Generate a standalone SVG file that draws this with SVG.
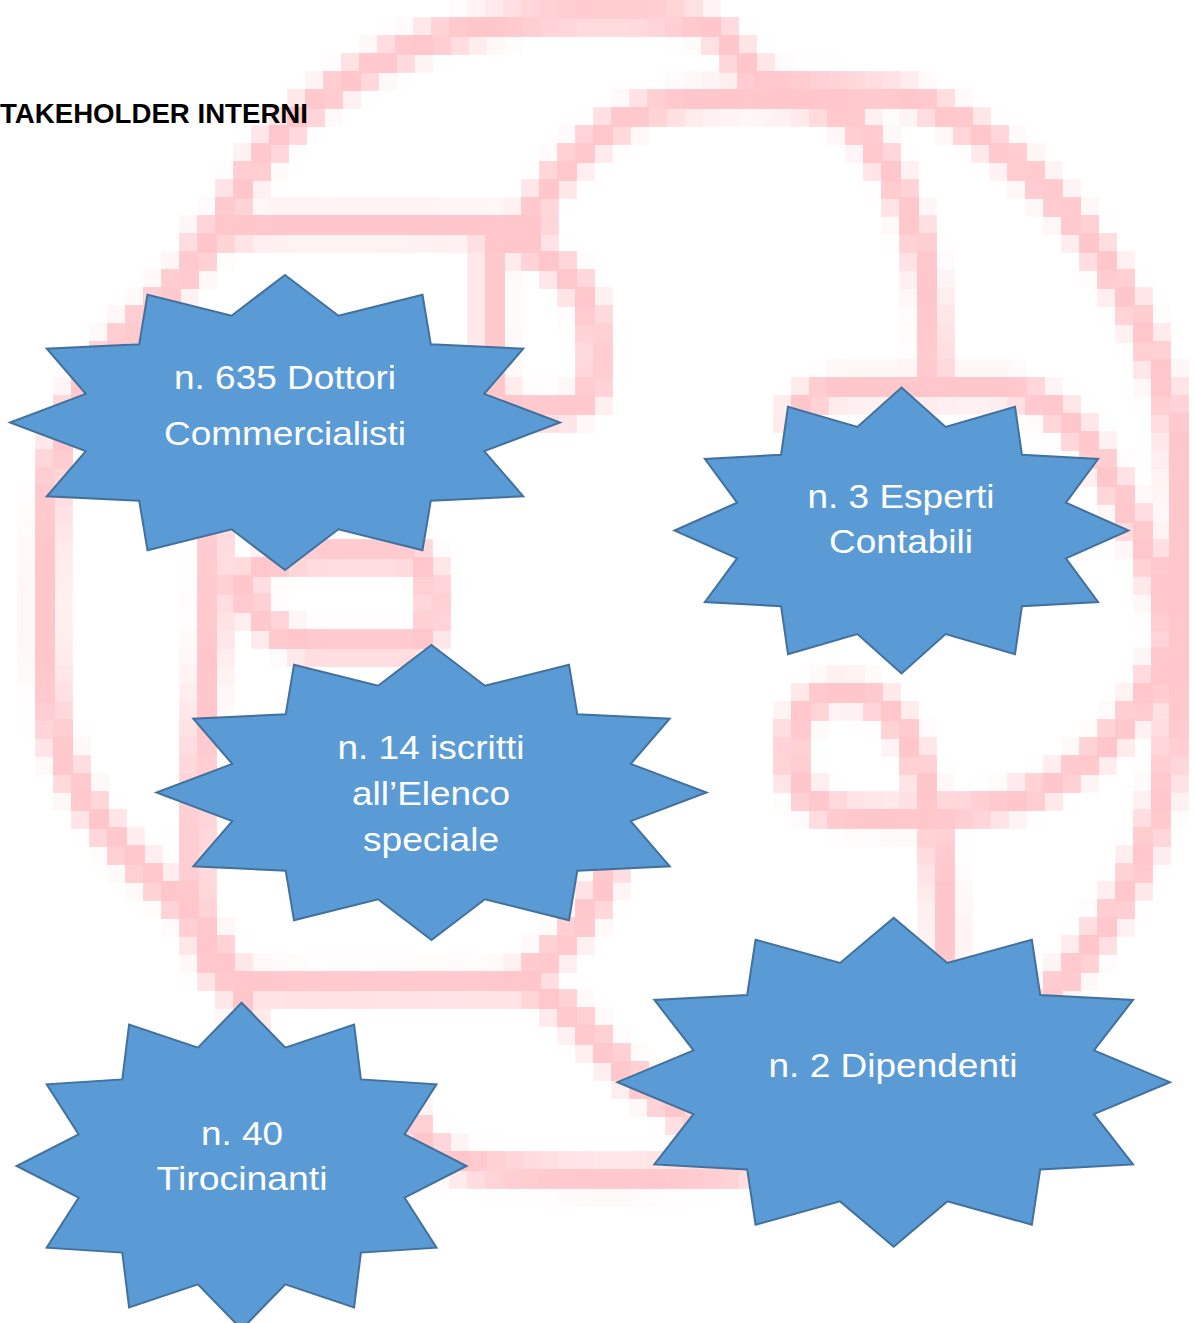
<svg xmlns="http://www.w3.org/2000/svg" width="1195" height="1323" viewBox="0 0 1195 1323">
  <style>
    .swirl { fill: none; stroke: #FFC6CB; stroke-width: 26; stroke-linecap: round; stroke-linejoin: round; }
    .star { fill: #5B9BD5; stroke: #41719C; stroke-width: 2; stroke-linejoin: miter; }
    .lbl { fill: #FFFFFF; font-family: "Liberation Sans", Arial, sans-serif; font-size: 34px; text-anchor: middle; }
    .head { fill: #000000; font-family: "Liberation Sans", Arial, sans-serif; font-weight: bold; font-size: 28px; }
  </style>
  <defs>
    <filter id="pixelate" filterUnits="userSpaceOnUse" x="0" y="0" width="1195" height="1323" color-interpolation-filters="sRGB">
      <feGaussianBlur in="SourceGraphic" stdDeviation="6" result="blur"/>
      <feFlood x="8" y="8" width="2" height="2" flood-color="#000000" flood-opacity="1" result="dot"/>
      <feComposite in="dot" in2="dot" operator="over" x="0" y="0" width="18" height="18" result="cell"/>
      <feTile in="cell" result="grid"/>
      <feComposite in="blur" in2="grid" operator="in" result="samples"/>
      <feMorphology in="samples" operator="dilate" radius="9"/>
    </filter>
  </defs>
  <rect x="0" y="0" width="1195" height="1323" fill="#FFFFFF"/>

  <g id="background" filter="url(#pixelate)">
    <path class="swirl" d="M 248,1030 C 240,975 210,930 160,885 C 110,840 70,790 55,730 C 42,660 45,560 52,480 C 60,420 90,370 130,330 C 175,290 210,250 235,200 C 265,140 320,90 400,52 C 470,22 560,12 640,16 C 690,18 715,25 730,45 C 745,70 760,85 800,88 L 900,95 C 960,110 1020,160 1070,215 C 1120,275 1160,350 1175,430 C 1185,520 1182,640 1172,740 C 1162,830 1130,910 1045,1000"/>
    <path class="swirl" d="M 520,235 C 550,180 590,125 660,106 C 720,95 790,95 830,108 C 870,125 895,175 915,230 C 930,280 933,330 933,390"/>
    <path class="swirl" d="M 795,415 C 810,395 825,388 850,388 L 1000,388 C 1040,392 1075,420 1105,470 C 1135,520 1160,570 1172,640"/>
    <path class="swirl" d="M 1165,655 C 1140,720 1080,785 1000,805 C 960,815 900,818 850,815 C 812,812 790,785 792,748 C 795,712 815,692 845,692 C 878,692 903,718 918,765 C 935,815 945,870 945,960"/>
    <path class="swirl" d="M 200,240 C 230,228 260,225 300,225 L 540,226"/>
    <path class="swirl" d="M 492,240 C 520,240 560,262 580,290 C 595,312 597,340 596,370 C 596,400 580,410 550,410 L 520,410 C 500,408 492,390 492,360 Z"/>
    <path class="swirl" d="M 214,500 L 212,620 C 205,700 195,790 196,880 C 197,930 205,960 220,975"/>
    <path class="swirl" d="M 240,585 C 265,560 290,555 330,555 L 410,555 C 438,558 442,640 415,645 L 320,645 C 285,645 260,625 240,585 Z"/>
    <path class="swirl" d="M 215,970 C 235,982 260,985 300,986 L 520,985 C 555,990 585,1030 630,1075 L 690,1120"/>
    <path class="swirl" d="M 612,860 C 600,905 570,945 525,975"/>
    <path class="swirl" d="M 412,1120 C 420,1150 445,1165 500,1170 C 580,1178 660,1178 745,1168"/>
  </g>

  <g id="page-text">
    <text class="head" x="0" y="123" textLength="308" lengthAdjust="spacingAndGlyphs">TAKEHOLDER INTERNI</text>
  </g>

  <g id="node-dottori">
    <polygon class="star" points="285,275 338.4,315.7 422.5,294.8 430.8,344.3 523.2,348.75 484.2,393.9 560,422.5 484.2,451.1 523.2,496.25 430.8,500.7 422.5,550.2 338.4,529.3 285,570 231.6,529.3 147.5,550.2 139.2,500.7 46.8,496.25 85.8,451.1 10,422.5 85.8,393.9 46.8,348.75 139.2,344.3 147.5,294.8 231.6,315.7"/>
    <text class="lbl" x="285" y="389" textLength="222" lengthAdjust="spacingAndGlyphs">n. 635 Dottori</text>
    <text class="lbl" x="285" y="445" textLength="242" lengthAdjust="spacingAndGlyphs">Commercialisti</text>
  </g>

  <g id="node-esperti">
    <polygon class="star" points="901.5,387.5 945.6,426.9 1015,406.7 1021.9,454.7 1098.1,459 1065.9,502.7 1128.5,530.5 1065.9,558.3 1098.1,602 1021.9,606.3 1015,654.3 945.6,634.1 901.5,673.5 857.4,634.1 788,654.3 781.1,606.3 704.9,602 737.1,558.3 674.5,530.5 737.1,502.7 704.9,459 781.1,454.7 788,406.7 857.4,426.9"/>
    <text class="lbl" x="901" y="508" textLength="187" lengthAdjust="spacingAndGlyphs">n. 3 Esperti</text>
    <text class="lbl" x="901" y="553" textLength="144" lengthAdjust="spacingAndGlyphs">Contabili</text>
  </g>

  <g id="node-elenco">
    <polygon class="star" points="431.5,645 484.9,685.7 569,664.8 577.3,714.3 669.7,718.75 630.7,763.9 706.5,792.5 630.7,821.1 669.7,866.25 577.3,870.7 569,920.2 484.9,899.3 431.5,940 378.1,899.3 294,920.2 285.7,870.7 193.3,866.25 232.3,821.1 156.5,792.5 232.3,763.9 193.3,718.75 285.7,714.3 294,664.8 378.1,685.7"/>
    <text class="lbl" x="431" y="759" textLength="187" lengthAdjust="spacingAndGlyphs">n. 14 iscritti</text>
    <text class="lbl" x="431" y="805" textLength="158" lengthAdjust="spacingAndGlyphs">all’Elenco</text>
    <text class="lbl" x="431" y="851" textLength="136" lengthAdjust="spacingAndGlyphs">speciale</text>
  </g>

  <g id="node-tirocinanti">
    <polygon class="star" points="241.6,1002.7 285.3,1047.7 354.1,1024.6 360.9,1079.4 436.5,1084.35 404.6,1134.3 466.6,1166 404.6,1197.7 436.5,1247.65 360.9,1252.6 354.1,1307.4 285.3,1284.3 241.6,1329.3 197.9,1284.3 129.1,1307.4 122.3,1252.6 46.7,1247.65 78.6,1197.7 16.6,1166 78.6,1134.3 46.7,1084.35 122.3,1079.4 129.1,1024.6 197.9,1047.7"/>
    <text class="lbl" x="242" y="1145" textLength="82" lengthAdjust="spacingAndGlyphs">n. 40</text>
    <text class="lbl" x="242" y="1190" textLength="171" lengthAdjust="spacingAndGlyphs">Tirocinanti</text>
  </g>

  <g id="node-dipendenti">
    <polygon class="star" points="893.7,917.7 947.3,963 1031.85,939.7 1040.2,995 1133,999.95 1093.9,1050.3 1170,1082.2 1093.9,1114.1 1133,1164.45 1040.2,1169.4 1031.85,1224.7 947.3,1201.4 893.7,1246.7 840.1,1201.4 755.55,1224.7 747.2,1169.4 654.4,1164.45 693.5,1114.1 617.4,1082.2 693.5,1050.3 654.4,999.95 747.2,995 755.55,939.7 840.1,963"/>
    <text class="lbl" x="893" y="1077" textLength="249" lengthAdjust="spacingAndGlyphs">n. 2 Dipendenti</text>
  </g>
</svg>
